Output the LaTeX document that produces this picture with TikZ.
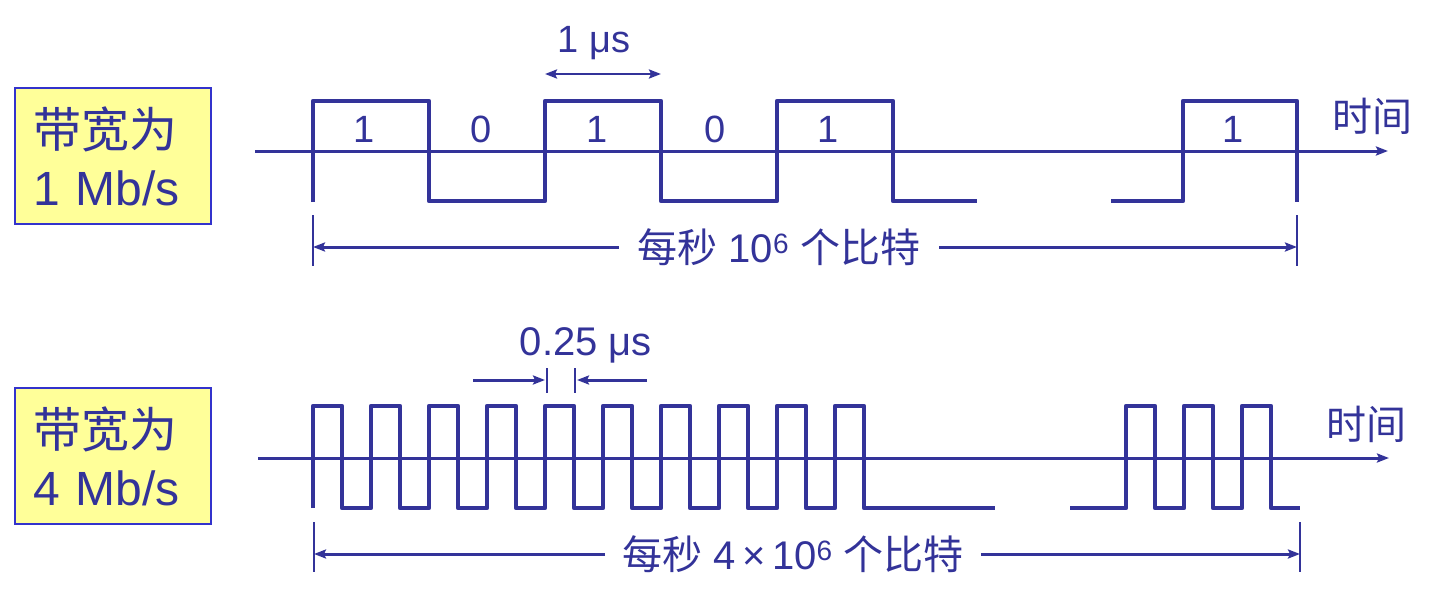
\documentclass[tikz,border=0pt]{standalone}
\usepackage{fontspec}
\setmainfont{Liberation Sans}
\newfontfamily\cjk{Noto Sans CJK SC}
\usetikzlibrary{arrows.meta}
\definecolor{wblue}{HTML}{333399}
\definecolor{bborder}{HTML}{3333CC}
\definecolor{bfill}{HTML}{FFFF99}
\tikzset{
  wave/.style={draw=wblue, line width=4.5pt, line join=round},
  axisline/.style={draw=wblue, line width=3pt, -{Stealth[length=12pt,width=9pt,inset=2pt]}},
  dimline/.style={draw=wblue, line width=3pt, -{Stealth[length=12pt,width=9pt,inset=2pt]}},
  twoway/.style={draw=wblue, line width=2.6pt, {Stealth[length=12pt,width=9pt,inset=2pt]}-{Stealth[length=12pt,width=9pt,inset=2pt]}},
  tickline/.style={draw=wblue, line width=2.6pt},
  bwbox/.style={draw=bborder, fill=bfill, line width=2.5pt, minimum width=196pt,
    minimum height=136pt, text width=160pt, inner xsep=18pt, inner ysep=0pt, align=left,
    text=wblue, font=\fontsize{48}{58}\selectfont},
  bitlabel/.style={text=wblue, font=\fontsize{38}{40}\selectfont, anchor=base, inner sep=0pt},
  unitlabel/.style={text=wblue, anchor=base, inner sep=0pt},
  dimtext/.style={text=wblue, font=\fontsize{40}{48}\selectfont, inner sep=0pt, outer xsep=19pt},
  timelabel/.style={text=wblue, font=\fontsize{40}{48}\selectfont\cjk, inner sep=0pt},
}
\begin{document}
\begin{tikzpicture}[x=1pt,y=-1pt]
\useasboundingbox (0,0) rectangle (1438,602);

% ---------- top: 1 Mb/s ----------
\node[bwbox] (box1) at (113,156) {{\cjk 带宽为}\\1 Mb/s};

\coordinate (a1s) at (255,151);
\coordinate (a1e) at (1388,151);
\draw[axisline] (a1s) -- (a1e);
\node[timelabel] (time1) at (1372,116) {时间};

\draw[wave] (313,202) -- (313,101) -- (429,101) -- (429,201) -- (545,201) -- (545,101)
  -- (661,101) -- (661,201) -- (777,201) -- (777,101) -- (893,101) -- (893,201) -- (977,201);
\draw[wave] (1111,201) -- (1183,201) -- (1183,101) -- (1297,101) -- (1297,202);

\node[bitlabel] (b1) at (364,142) {1};
\node[bitlabel] (b2) at (481,142) {0};
\node[bitlabel] (b3) at (597,142) {1};
\node[bitlabel] (b4) at (715,142) {0};
\node[bitlabel] (b5) at (828,142) {1};
\node[bitlabel] (b6) at (1233,142) {1};

\node[unitlabel, font=\fontsize{38}{40}\selectfont] (us1) at (594,53) {1 μs};
\coordinate (m1) at (545,74);
\coordinate (m2) at (661,74);
\draw[twoway] (m1) -- (m2);

\coordinate (t1a) at (313,215);
\coordinate (t1b) at (313,266);
\coordinate (t2a) at (1297,215);
\coordinate (t2b) at (1297,266);
\draw[tickline] (t1a) -- (t1b);
\draw[tickline] (t2a) -- (t2b);
\coordinate (d1l) at (313,247);
\coordinate (d1r) at (1297,247);
\node[dimtext] (dim1) at (779,247) {{\cjk 每秒} 10\textsuperscript{6} {\cjk 个比特}};
\draw[dimline] (dim1.west) -- (d1l);
\draw[dimline] (dim1.east) -- (d1r);

% ---------- bottom: 4 Mb/s ----------
\node[bwbox] (box2) at (113,456) {{\cjk 带宽为}\\4 Mb/s};

\coordinate (a2s) at (258,458);
\coordinate (a2e) at (1389,458);
\draw[axisline] (a2s) -- (a2e);
\node[timelabel] (time2) at (1366,424) {时间};

\draw[wave] (313,508) \foreach \i in {0,...,9} {
    -- ({313+58*\i},406) -- ({342+58*\i},406) -- ({342+58*\i},508) -- ({371+58*\i},508) }
  -- (995,508);
\draw[wave] (1070,508) \foreach \i in {0,1,2} {
    -- ({1126+58*\i},508) -- ({1126+58*\i},406) -- ({1155+58*\i},406) -- ({1155+58*\i},508) }
  -- (1300,508);

\node[unitlabel, font=\fontsize{40}{44}\selectfont] (us2) at (586,355) {0.25 μs};
\coordinate (q1s) at (473,380);
\coordinate (q1e) at (545,380);
\coordinate (q2s) at (647,380);
\coordinate (q2e) at (577,380);
\draw[dimline] (q1s) -- (q1e);
\draw[dimline] (q2s) -- (q2e);
\coordinate (k1a) at (547,368);
\coordinate (k1b) at (547,393);
\coordinate (k2a) at (575,368);
\coordinate (k2b) at (575,393);
\draw[tickline] (k1a) -- (k1b);
\draw[tickline] (k2a) -- (k2b);

\coordinate (t3a) at (314,522);
\coordinate (t3b) at (314,572);
\coordinate (t4a) at (1300,522);
\coordinate (t4b) at (1300,572);
\draw[tickline] (t3a) -- (t3b);
\draw[tickline] (t4a) -- (t4b);
\coordinate (d2l) at (314,554);
\coordinate (d2r) at (1300,554);
\node[dimtext, outer xsep=17pt] (dim2) at (793,554) {{\cjk 每秒} 4\,×\,10\textsuperscript{6} {\cjk 个比特}};
\draw[dimline] (dim2.west) -- (d2l);
\draw[dimline] (dim2.east) -- (d2r);
\end{tikzpicture}
\end{document}
